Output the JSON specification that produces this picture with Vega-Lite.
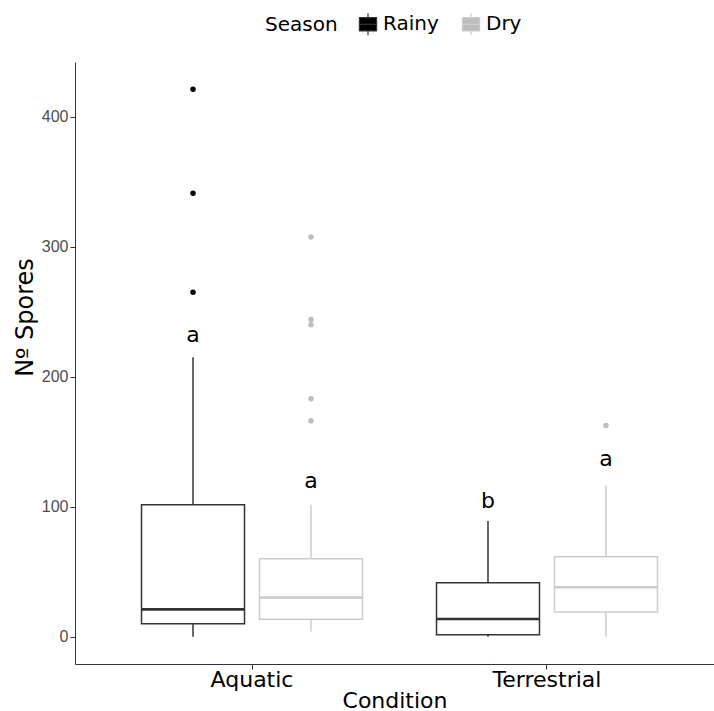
{
  "$schema": "https://vega.github.io/schema/vega-lite/v6.json",
  "width": 639,
  "height": 602,
  "autosize": {"type": "none"},
  "padding": {"left": 75, "top": 62, "right": 0, "bottom": 47},
  "background": "white",
  "config": {"view": {"stroke": null}, "font": "DejaVu Sans"},
  "datasets": {
    "boxes": [
      {"Condition": "Aquatic", "Season": "Rainy", "lower": 0, "q1": 10, "median": 21, "q3": 101.5, "upper": 215, "label": "a", "labelY": 227},
      {"Condition": "Aquatic", "Season": "Dry", "lower": 4, "q1": 13.3, "median": 30, "q3": 60, "upper": 101.5, "label": "a", "labelY": 114.5},
      {"Condition": "Terrestrial", "Season": "Rainy", "lower": 0, "q1": 1.5, "median": 13.6, "q3": 41.5, "upper": 89, "label": "b", "labelY": 99},
      {"Condition": "Terrestrial", "Season": "Dry", "lower": 0, "q1": 19, "median": 38, "q3": 61.5, "upper": 116.4, "label": "a", "labelY": 131.5}
    ],
    "outliers": [
      {"Condition": "Aquatic", "Season": "Rainy", "value": 421},
      {"Condition": "Aquatic", "Season": "Rainy", "value": 341},
      {"Condition": "Aquatic", "Season": "Rainy", "value": 265},
      {"Condition": "Aquatic", "Season": "Dry", "value": 307.5},
      {"Condition": "Aquatic", "Season": "Dry", "value": 244},
      {"Condition": "Aquatic", "Season": "Dry", "value": 240},
      {"Condition": "Aquatic", "Season": "Dry", "value": 183},
      {"Condition": "Aquatic", "Season": "Dry", "value": 166},
      {"Condition": "Terrestrial", "Season": "Dry", "value": 162.5}
    ]
  },
  "encoding": {
    "x": {
      "field": "Condition", "type": "nominal",
      "scale": {"domain": ["Aquatic", "Terrestrial"], "paddingInner": 0, "paddingOuter": 0.0831, "align": 0.602},
      "axis": {
        "title": "Condition", "labelAngle": 0, "labelFontSize": 22, "labelColor": "black",
        "labelPadding": 0, "tickSize": 5, "tickColor": "#333333", "domainColor": "#333333",
        "titleFontSize": 22, "titleFontWeight": "normal", "titleColor": "black", "titlePadding": 0, "grid": false
      }
    },
    "xOffset": {
      "field": "Season", "type": "nominal",
      "scale": {"domain": ["Rainy", "Dry"], "paddingInner": 0, "paddingOuter": 0.25}
    }
  },
  "layer": [
    {
      "data": {"name": "boxes"},
      "mark": {"type": "bar", "filled": false, "width": 103, "strokeWidth": 1.5},
      "encoding": {
        "y": {
          "field": "q1", "type": "quantitative",
          "scale": {"domain": [-21.05, 442.05], "nice": false, "zero": false},
          "axis": {
            "title": "Nº Spores", "values": [0, 100, 200, 300, 400], "grid": false,
            "labelFont": "Liberation Sans", "labelFontSize": 16, "labelColor": "#4d4d4d",
            "tickSize": 5, "tickColor": "#333333", "domainColor": "#333333", "labelPadding": 2,
            "titleFontSize": 24, "titleFontWeight": "normal", "titleColor": "black",
            "titleX": -50, "titleY": 255, "titleBaseline": "middle"
          }
        },
        "y2": {"field": "q3"},
        "color": {
          "field": "Season", "type": "nominal",
          "scale": {"domain": ["Rainy", "Dry"], "range": ["#333333", "#cccccc"]},
          "legend": {
            "orient": "none", "legendX": 190, "legendY": -50, "direction": "horizontal",
            "title": "Season", "titleOrient": "left", "titleFontSize": 20, "titleFontWeight": "normal",
            "titleColor": "black", "titlePadding": 18, "labelFontSize": 20, "labelColor": "black",
            "labelOffset": 3, "columnPadding": 20,
            "symbolType": "M-0.78,-0.6L0.78,-0.6L0.78,0.6L-0.78,0.6Z M-0.78,0L0.78,0 M0,-0.6L0,-1 M0,0.6L0,1",
            "symbolSize": 484, "symbolStrokeWidth": 1.2, "symbolFillColor": "transparent",
            "encode": {
              "symbols": {
                "update": {
                  "fill": {"value": "transparent"},
                  "fillOpacity": {"value": 0},
                  "strokeWidth": {"value": 1.2}
                }
              }
            }
          }
        }
      }
    },
    {
      "data": {"name": "boxes"},
      "mark": {"type": "rule", "strokeWidth": 1.5},
      "encoding": {"y": {"field": "lower", "type": "quantitative"}, "y2": {"field": "q1"}, "color": {"field": "Season", "type": "nominal"}}
    },
    {
      "data": {"name": "boxes"},
      "mark": {"type": "rule", "strokeWidth": 1.5},
      "encoding": {"y": {"field": "q3", "type": "quantitative"}, "y2": {"field": "upper"}, "color": {"field": "Season", "type": "nominal"}}
    },
    {
      "data": {"name": "boxes"},
      "mark": {"type": "bar", "filled": false, "width": 103, "strokeWidth": 2.6},
      "encoding": {"y": {"field": "median", "type": "quantitative"}, "y2": {"field": "median"}, "color": {"field": "Season", "type": "nominal"}}
    },
    {
      "data": {"name": "outliers"},
      "mark": {"type": "point", "filled": true, "size": 30, "opacity": 1},
      "encoding": {
        "y": {"field": "value", "type": "quantitative"},
        "fill": {"field": "Season", "type": "nominal", "scale": {"domain": ["Rainy", "Dry"], "range": ["#000000", "#bdbdbd"]}, "legend": null}
      }
    },
    {
      "data": {"name": "boxes"},
      "mark": {"type": "text", "fontSize": 22, "baseline": "alphabetic", "color": "black"},
      "encoding": {
        "y": {"field": "labelY", "type": "quantitative"},
        "text": {"field": "label"}
      }
    }
  ]
}
